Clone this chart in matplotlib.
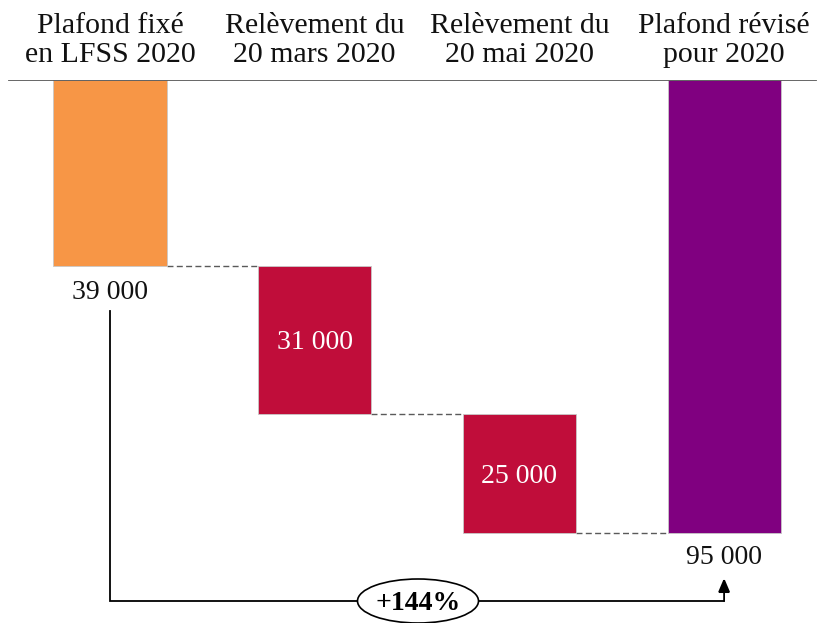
import matplotlib
matplotlib.use("Agg")
import matplotlib.pyplot as plt
from matplotlib.patches import Ellipse

categories = ["Plafond fixé\nen LFSS 2020", "Relèvement du\n20 mars 2020",
              "Relèvement du\n20 mai 2020", "Plafond révisé\npour 2020"]
values = [39000, 31000, 25000, 95000]
value_labels = ["39 000", "31 000", "25 000", "95 000"]
growth_label = "+144%"

colors = ["#F79646", "#C00D3A", "#C00D3A", "#800080"]
FONT = "Liberation Serif"

fig = plt.figure(figsize=(8.18, 6.23), dpi=100)
W, H = 818, 623
top_px = 80
ax = fig.add_axes([0, 0, 1, 1 - top_px / H])
ax.axis("off")

total = values[3]
px_per_unit = 453 / total
ax.set_ylim((H - top_px) / px_per_unit, 0)
step_px = 204.7
x0_px = 110
ax.set_xlim(-x0_px / step_px, (W - x0_px) / step_px)
width = 113 / step_px
unit = 1 / px_per_unit

# waterfall (bars hang from the top line)
starts = [0, values[0], values[0] + values[1], 0]
for i, (v, s, c) in enumerate(zip(values, starts, colors)):
    ax.bar(i, v, bottom=s, width=width, color=c, edgecolor="#C8C8C8",
           linewidth=0.6, zorder=3)

levels = [values[0], values[0] + values[1], values[0] + values[1] + values[2]]
for i, lv in enumerate(levels):
    ax.plot([i + width / 2, i + 1 - width / 2], [lv, lv], color="#5A5A5A",
            linestyle=(0, (4.3, 2.4)), linewidth=1.0, zorder=2)

ax.axhline(0, xmin=9 / W, xmax=816 / W, color="#5A5A5A", linewidth=1.3, zorder=4)

for i, cat in enumerate(categories):
    ax.text(i, -11.5 * unit, cat, ha="center", va="bottom", fontsize=21.5,
            family=FONT, color="#111111", linespacing=1.19)

ax.text(0, values[0] + 27 * unit, value_labels[0], ha="center", va="center",
        fontsize=20, family=FONT, color="#111111")
ax.text(1, starts[1] + values[1] / 2 + 3 * unit, value_labels[1], ha="center",
        va="center", fontsize=20, family=FONT, color="white")
ax.text(2, starts[2] + values[2] / 2 + 3 * unit, value_labels[2], ha="center",
        va="center", fontsize=20, family=FONT, color="white")
ax.text(3, values[3] + 25 * unit, value_labels[3], ha="center", va="center",
        fontsize=20, family=FONT, color="#111111")

# growth arrow
y_start = values[0] + 45 * unit
y_bottom = values[3] + 68 * unit
y_tip = values[3] + 45 * unit
ax.plot([0, 0, 3], [y_start, y_bottom, y_bottom],
        color="black", linewidth=1.3, zorder=5, solid_joinstyle="miter")
ax.annotate("", xy=(3, y_tip), xytext=(3, y_bottom + 0.6 * unit),
            arrowprops=dict(arrowstyle="-|>,head_length=0.85,head_width=0.36",
                            mutation_scale=10, color="black", lw=1.3,
                            shrinkA=0, shrinkB=0, joinstyle="miter",
                            capstyle="butt"), zorder=6)
ex = (418 - x0_px) / step_px
ell = Ellipse((ex, y_bottom), 121 / step_px, 44 * unit, facecolor="white",
              edgecolor="black", linewidth=1.2, zorder=6)
ax.add_patch(ell)
ax.text(ex, y_bottom + 2 * unit, growth_label, ha="center", va="center",
        fontsize=20, fontweight="bold", family=FONT, color="black", zorder=7)

fig.savefig("out.png", dpi=100)
